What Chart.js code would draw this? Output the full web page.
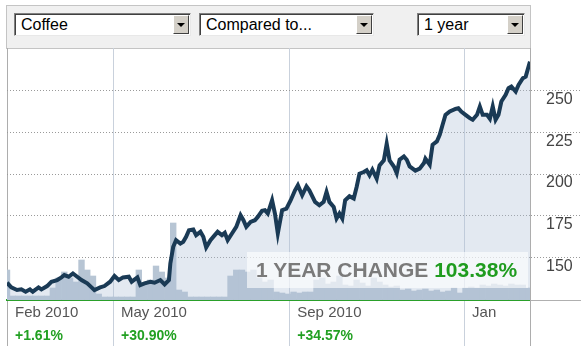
<!DOCTYPE html>
<html>
<head>
<meta charset="utf-8">
<script src="https://cdn.jsdelivr.net/npm/chart.js@4.4.1/dist/chart.umd.min.js"></script>
<style>
body { margin:0; width:581px; height:346px; background:#fff; position:relative; overflow:hidden; font-family:"Liberation Sans", Arial, sans-serif; }
#panel { position:absolute; left:6px; top:5px; width:525px; height:44px; box-sizing:border-box; background:#f0f0f0; border:1px solid #c4c4c4; }
.sel { position:absolute; top:13px; height:23px; box-sizing:border-box; background:#fff; border:1px solid; border-color:#808080 #e8e8e8 #e8e8e8 #808080; box-shadow:inset 1px 1px 0 #404040; font-size:16px; line-height:21px; padding-left:6px; color:#000; white-space:nowrap; }
.btn { position:absolute; right:1px; top:1px; bottom:1px; width:16px; background:#d4d0c8; border:1px solid; border-color:#fff #404040 #404040 #fff; box-sizing:border-box; }
.btn::after { content:''; position:absolute; left:3px; top:7px; border-left:4px solid transparent; border-right:4px solid transparent; border-top:4px solid #000; }
#wrap { position:absolute; left:0; top:48px; width:581px; height:298px; }
#change { position:absolute; left:247px; top:252px; width:281px; height:36px; background:rgba(255,255,255,0.62); font-weight:bold; font-size:21px; line-height:36px; padding-left:9px; box-sizing:border-box; color:#7a7a7a; white-space:nowrap; }
#change span { color:#1f9c1f; }
#tail { position:absolute; left:530px; top:300px; width:51px; height:1px; background:#b0b0b0; }
</style>
</head>
<body>
<div id="panel"></div>
<div class="sel" style="left:14px;width:177px">Coffee<span class="btn"></span></div>
<div class="sel" style="left:199px;width:175px">Compared to...<span class="btn"></span></div>
<div class="sel" style="left:417px;width:108px">1 year<span class="btn"></span></div>
<div id="tail"></div>
<div id="wrap"><canvas id="grafica" width="581" height="298"></canvas></div>
<div id="change">1 YEAR CHANGE <span>103.38%</span></div>
<script>
// dias desde el 16 feb 2010 y precio del cafe
const dias = [0,3,7,10,13,16,18,22,24,28,31,35,38,40,43,46,49,52,56,59,61,65,68,72,75,78,81,85,87,91,93,
  96,100,103,107,110,113,114,116,118,121,123,125,127,130,132,135,137,139,142,145,147,150,152,154,157,160,163,165,167,170,173,175,178,
  180,182,185,187,189,192,195,198,201,203,206,209,211,215,218,221,223,225,228,230,232,234,236,239,242,244,246,249,251,253,255,258,260,263,265,267,270,272,274,
  277,279,281,285,288,291,292,295,297,300,302,304,306,309,313,315,317,320,323,325,328,330,332,335,337,339,341,343,345,348,350,352,355,357,360,362,363,365];
const precios = [134.6,131.8,130.2,130.6,129.2,130.6,129.2,131.8,130.6,132.6,135.2,136.2,137.8,139.2,138.2,140.2,138.2,136.2,134.2,131.8,130.2,131.8,132.6,135.2,138.6,136.2,137.8,138.2,135.2,137.8,133.2,
  134.2,135.2,134.6,136.2,133.6,136.2,146.2,156.2,160.2,158.2,159.2,162.2,166.2,166.6,163.2,165.2,162.2,155.8,160.2,163.2,165.2,163.2,164.6,160.2,164.2,168.2,175.2,172.2,168.2,171.2,172.2,174.2,177.8,
  178.2,176.2,184.2,176.2,164.2,178.2,179.2,184.2,190.2,193.2,187.2,192.6,190.2,183.2,181.2,183.2,189.2,183.2,180.2,173.2,176.2,173.2,184.2,186.6,185.2,192.2,200.2,201.2,202.2,199.2,202.6,197.2,205.2,208.2,218.2,208.2,204.5,200.5,208.6,
  210.6,208.6,204.6,202,203.2,206.6,209.2,205.6,217.6,219.6,223.6,229.6,235.6,237.6,239.2,239.6,237.6,235.6,233.6,232.6,235.6,240.6,235.6,235.6,233.2,240.6,232.6,235.6,243.6,247.6,251.6,252.6,249.6,253.6,257.6,258.6,261.6,267.6];

// volumen (escala libre), cada 4 dias
const diasVol = [0,4,8,12,16,20,24,28,32,36,40,44,48,52,56,60,64,68,72,76,80,84,88,92,96,100,104,108,112,116,120,124,128,132,136,140,144,148,152,156,160,164,168,172,176,180,184,188,192,196,200,204,208,212,216,220,224,228,232,236,240,244,248,252,256,260,264,268,272,276,280,284,288,292,296,300,304,308,312,316,320,324,328,332,336,340,344,348,352,356,360,364];
const volumen = [30,4,4,4,4,4,4,4,12,22,28,22,18,40,30,24,6,3,3,3,3,3,3,30,17,20,34,28,22,77,10,8,3,3,3,3,3,3,3,24,30,30,28,30,22,18,20,8,7,6,8,7,8,8,20,22,16,18,24,15,14,20,17,14,22,18,15,13,14,10,11,9,10,11,9,10,8,9,12,7,12,13,12,15,14,16,15,14,16,15,15,12];

const diasMarca = [0, 74, 197, 319, 365];
const etiquetasMes = ['Feb 2010', 'May 2010', 'Sep 2010', 'Jan', ''];
const etiquetasCambio = ['+1.61%', '+30.90%', '+34.57%', '', ''];
const marcasPrecio = [150, 175, 200, 225, 250];

const fuente = '"Liberation Sans", Arial, sans-serif';
const colorRejilla = (c) => (c.tick && (c.tick.value === 0 || c.tick.value === 365)) ? '#adadad' : '#c9d1dc';

new Chart(document.getElementById('grafica'), {
    type: 'line',
    data: {
        datasets: [
            {
                type: 'line',
                data: dias.map((d, i) => ({ x: d, y: precios[i] })),
                borderColor: '#1a3a55',
                borderWidth: 4,
                pointRadius: 0,
                fill: 'start',
                backgroundColor: 'rgba(175,192,214,0.35)',
                xAxisID: 'x',
                yAxisID: 'y',
                order: 1,
            },
            {
                type: 'bar',
                data: diasVol.map((d, i) => ({ x: d, y: volumen[i] })),
                backgroundColor: '#b7c5d4',
                borderWidth: 0,
                barPercentage: 1,
                categoryPercentage: 1,
                xAxisID: 'x',
                yAxisID: 'yv',
                order: 2,
            },
        ],
    },
    options: {
        responsive: false,
        animation: false,
        devicePixelRatio: 1,
        layout: { padding: { left: 7, right: 0, top: 0, bottom: 0 } },
        plugins: { legend: { display: false }, tooltip: { enabled: false } },
        scales: {
            x: {
                type: 'linear', position: 'bottom', min: 0, max: 365, offset: false, weight: 0,
                afterBuildTicks: (s) => { s.ticks = diasMarca.map(v => ({ value: v })); },
                afterFit: (s) => { s.height = 24; },
                grid: { offset: false, color: colorRejilla, tickColor: colorRejilla, tickLength: 24 },
                border: { color: '#2aa02a', width: 2 },
                ticks: {
                    autoSkip: false, maxRotation: 0, align: 'start', labelOffset: 8, padding: -20,
                    color: '#555', font: { size: 15, family: fuente },
                    callback: (v, i) => etiquetasMes[i],
                },
            },
            x2: {
                type: 'linear', position: 'bottom', min: 0, max: 365, offset: false, weight: 1,
                afterBuildTicks: (s) => { s.ticks = diasMarca.map(v => ({ value: v })); },
                afterFit: (s) => { s.height = 22; },
                grid: { offset: false, drawOnChartArea: false, color: colorRejilla, tickColor: colorRejilla, tickLength: 22 },
                border: { display: false },
                ticks: {
                    autoSkip: false, maxRotation: 0, align: 'start', labelOffset: 8, padding: -18,
                    color: '#22a022', font: { size: 14, weight: 'bold', family: fuente },
                    callback: (v, i) => etiquetasCambio[i],
                },
            },
            y: {
                position: 'right', min: 124.2, max: 275.8,
                afterBuildTicks: (s) => { s.ticks = marcasPrecio.map(v => ({ value: v })); },
                afterFit: (s) => { s.width = 51; },
                grid: { color: '#9a9a9a', tickColor: '#9a9a9a', tickLength: 51, tickBorderDash: [1, 2] },
                border: { display: true, color: '#adadad', dash: [1, 2] },
                ticks: { padding: -35, labelOffset: 9, color: '#444', font: { size: 16, family: fuente } },
            },
            yv: { display: false, min: 0, max: 252 },
        },
    },
});
</script>
</body>
</html>
